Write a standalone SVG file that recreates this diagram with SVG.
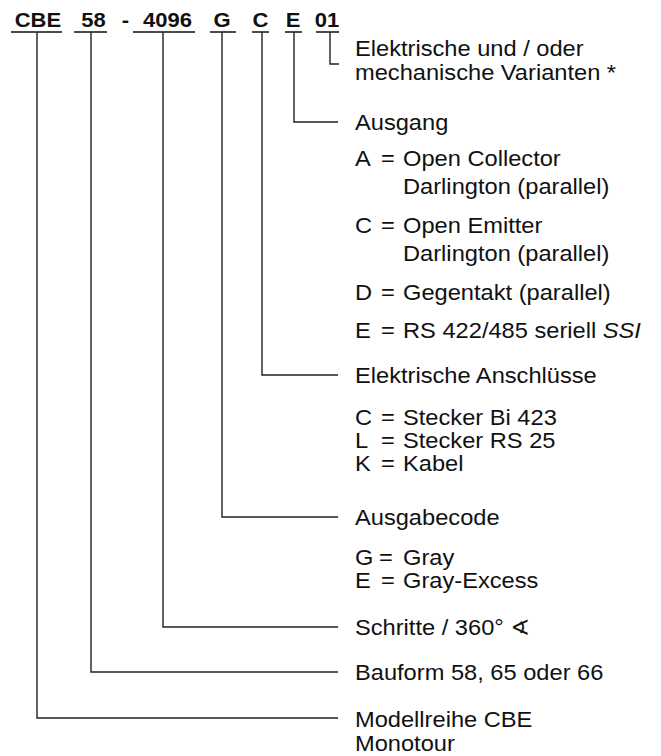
<svg xmlns="http://www.w3.org/2000/svg" width="661" height="756" viewBox="0 0 661 756">
<style>
.t{font-family:"Liberation Sans",Arial,sans-serif;font-size:21.5px;fill:#111}
.h{font-family:"Liberation Sans",Arial,sans-serif;font-size:20px;font-weight:bold;fill:#111;text-anchor:middle}
.ul{stroke:#111;stroke-width:1.6;fill:none}
.c{stroke:#222;stroke-width:1.4;fill:none}
</style>
<rect width="661" height="756" fill="#fff"/>
<g id="header">
<g transform="scale(1.1 1)">
<text class="h" x="34.5" y="27">CBE</text>
<text class="h" x="85" y="27">58</text>
<text class="h" x="114.1" y="27">-</text>
<text class="h" x="152.3" y="27">4096</text>
<text class="h" x="201.8" y="27">G</text>
<text class="h" x="236.8" y="27">C</text>
<text class="h" x="266.4" y="27">E</text>
<text class="h" x="297.3" y="27">01</text>
</g>
<path class="ul" d="M11,32H62M74,32H107M133,32H195M210,32H236M252,32H269M285,32H302M316,32H339"/>
</g>
<g id="connectors">
<path class="c" d="M330,32V64H339"/>
<path class="c" d="M294,32V122H338"/>
<path class="c" d="M262,32V375H338"/>
<path class="c" d="M222,32V517H338"/>
<path class="c" d="M163,32V627H338"/>
<path class="c" d="M91,32V672H338"/>
<path class="c" d="M37,32V718H338"/>
</g>
<g transform="scale(1.1 1)">
<g id="varianten">
<text class="t" x="322.7" y="56">Elektrische und / oder</text>
<text class="t" x="322.7" y="80">mechanische Varianten *</text>
</g>
<g id="ausgang">
<text class="t" x="322.7" y="130">Ausgang</text>
<text class="t" y="166"><tspan x="322.7">A</tspan><tspan x="346.4">=</tspan><tspan x="366.4">Open Collector</tspan></text>
<text class="t" x="366.4" y="194">Darlington (parallel)</text>
<text class="t" y="233"><tspan x="322.7">C</tspan><tspan x="346.4">=</tspan><tspan x="366.4">Open Emitter</tspan></text>
<text class="t" x="366.4" y="261">Darlington (parallel)</text>
<text class="t" y="300"><tspan x="322.7">D</tspan><tspan x="346.4">=</tspan><tspan x="366.4">Gegentakt (parallel)</tspan></text>
<text class="t" y="338"><tspan x="322.7">E</tspan><tspan x="346.4">=</tspan><tspan x="366.4">RS 422/485 seriell </tspan><tspan font-style="italic">SSI</tspan></text>
</g>
<g id="anschluesse">
<text class="t" x="322.7" y="383">Elektrische Anschlüsse</text>
<text class="t" y="425"><tspan x="322.7">C</tspan><tspan x="346.4">=</tspan><tspan x="366.4">Stecker Bi 423</tspan></text>
<text class="t" y="448"><tspan x="322.7">L</tspan><tspan x="346.4">=</tspan><tspan x="366.4">Stecker RS 25</tspan></text>
<text class="t" y="471"><tspan x="322.7">K</tspan><tspan x="346.4">=</tspan><tspan x="366.4">Kabel</tspan></text>
</g>
<g id="ausgabecode">
<text class="t" x="322.7" y="525">Ausgabecode</text>
<text class="t" y="565"><tspan x="322.7">G</tspan><tspan x="344.5">=</tspan><tspan x="366.4">Gray</tspan></text>
<text class="t" y="588"><tspan x="322.7">E</tspan><tspan x="346.4">=</tspan><tspan x="366.4">Gray-Excess</tspan></text>
</g>
<g id="schritte">
<text class="t" x="322.7" y="635">Schritte / 360° <tspan font-family="'DejaVu Sans',sans-serif">∢</tspan></text>
</g>
<g id="bauform">
<text class="t" x="322.7" y="680">Bauform 58, 65 oder 66</text>
</g>
<g id="modellreihe">
<text class="t" x="322.7" y="727">Modellreihe CBE</text>
<text class="t" x="322.7" y="751">Monotour</text>
</g>
</g>
</svg>
